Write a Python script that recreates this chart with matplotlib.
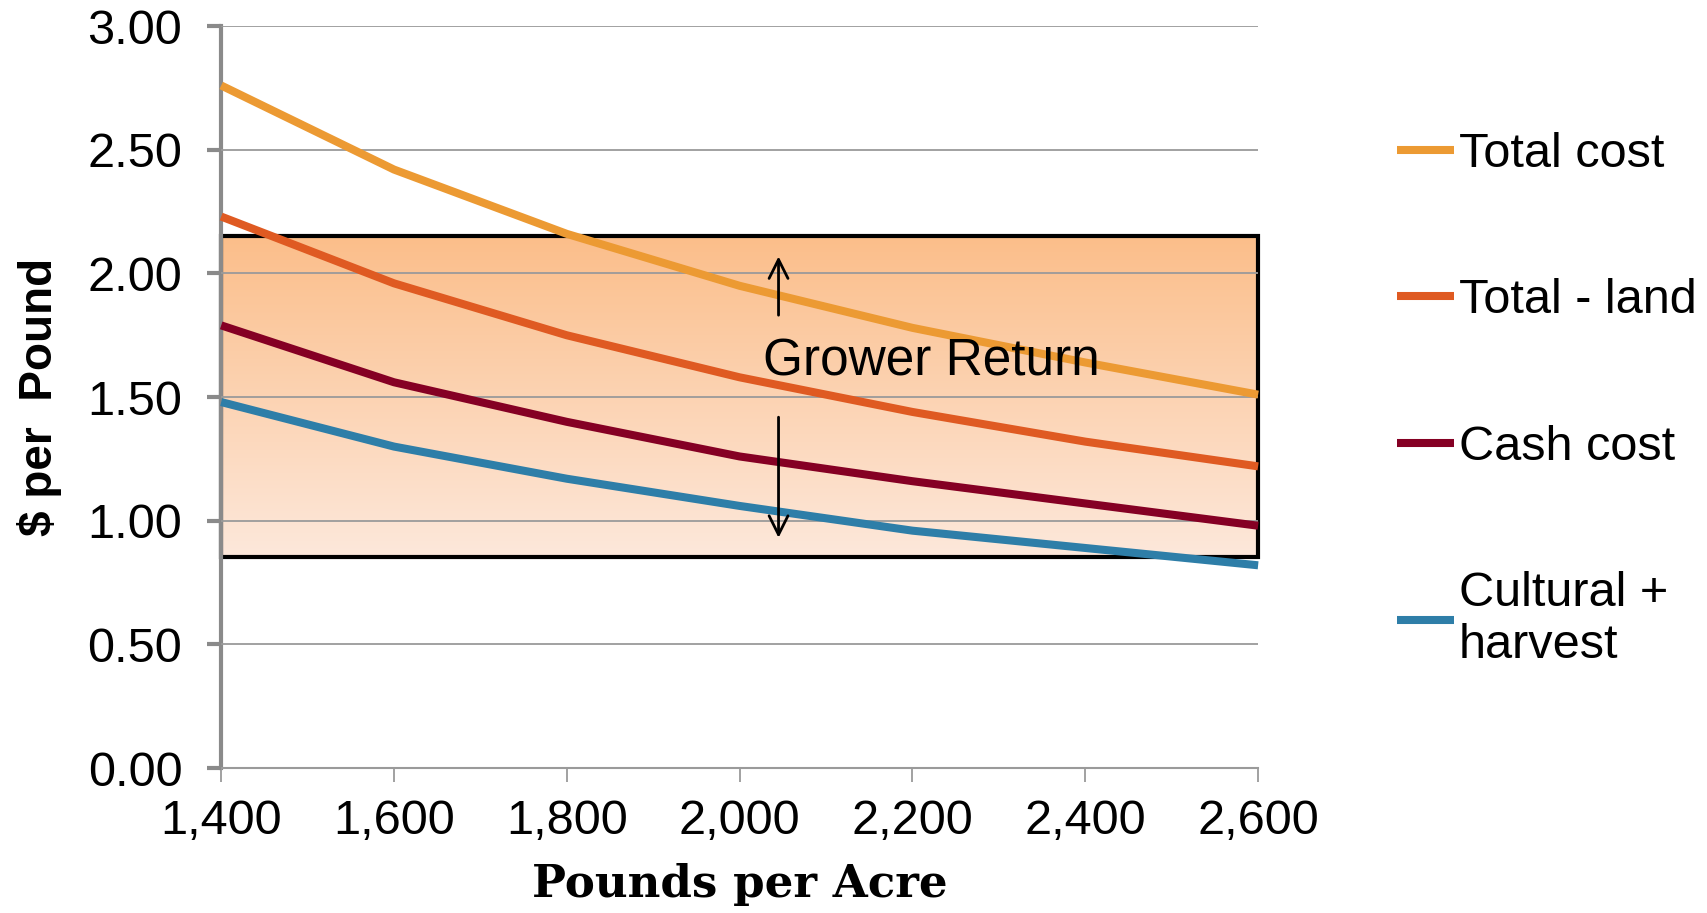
import numpy as np
import matplotlib
matplotlib.use('Agg')
import matplotlib.pyplot as plt
from matplotlib.patches import Rectangle

plt.rcParams['font.family'] = ['Liberation Sans', 'DejaVu Sans']

# pounds per acre
yields = [1400, 1600, 1800, 2000, 2200, 2400, 2600]

# $ per pound
total_cost = [2.76, 2.42, 2.16, 1.95, 1.78, 1.64, 1.51]
total_minus_land = [2.23, 1.96, 1.75, 1.58, 1.44, 1.32, 1.22]
cash_cost = [1.79, 1.56, 1.40, 1.26, 1.16, 1.07, 0.98]
cultural_harvest = [1.48, 1.30, 1.17, 1.06, 0.96, 0.89, 0.82]

series_labels = ['Total cost', 'Total - land', 'Cash cost', 'Cultural +\nharvest']
series_colors = ['#EC9A33', '#DF5A22', '#850024', '#2E7EA8']

# shaded "grower return" band
band_low = 0.855
band_high = 2.15
arrow_x = 2045
arrow_up = (1.82, 2.08)
arrow_down = (1.43, 0.92)
label_pos = (2222, 1.64)

fig = plt.figure(figsize=(17.08, 9.13), dpi=100)
ax = fig.add_axes([0.1295, 0.1587, 0.6071, 0.8127])

# gradient band
grad = np.linspace(0, 1, 256).reshape(-1, 1)
top = np.array([0xFB, 0xBE, 0x8A]) / 255
bot = np.array([0xFD, 0xE8, 0xDB]) / 255
img = top[None, None, :] * (1 - grad[:, :, None]) + bot[None, None, :] * grad[:, :, None]
ax.imshow(img, extent=[yields[0], yields[-1], band_low, band_high], aspect='auto',
          origin='upper', zorder=0.5)
ax.add_patch(Rectangle((yields[0], band_low), yields[-1] - yields[0], band_high - band_low,
                       fill=False, edgecolor='black', linewidth=3, zorder=2, clip_on=False))

for vals, lab, col in zip([total_cost, total_minus_land, cash_cost, cultural_harvest],
                          series_labels, series_colors):
    ax.plot(yields, vals, color=col, linewidth=5.8, label=lab, zorder=3,
            solid_capstyle='butt', clip_on=False)

ax.annotate('', xy=(arrow_x, arrow_up[1]), xytext=(arrow_x, arrow_up[0]),
            arrowprops=dict(arrowstyle='->', color='black', lw=2, mutation_scale=34), zorder=4)
ax.annotate('', xy=(arrow_x, arrow_down[1]), xytext=(arrow_x, arrow_down[0]),
            arrowprops=dict(arrowstyle='->', color='black', lw=2, mutation_scale=34), zorder=4)
ax.text(label_pos[0], label_pos[1], 'Grower Return', fontsize=37, ha='center', va='center', zorder=4)

ax.set_xlim(yields[0], yields[-1])
ax.set_ylim(0, 3.0)
ax.set_yticks(np.arange(0, 3.01, 0.5))
ax.set_yticklabels(['%.2f' % v for v in np.arange(0, 3.01, 0.5)])
ax.set_xticks(yields)
ax.set_xticklabels(['{:,}'.format(v) for v in yields])
ax.yaxis.grid(True, color='#9A9A9A', linewidth=1.3, zorder=1)
ax.set_axisbelow(False)
for gl in ax.get_ygridlines():
    gl.set_zorder(1)

for s in ['top', 'right']:
    ax.spines[s].set_visible(False)
ax.spines['left'].set_color('#8A8A8A')
ax.spines['left'].set_linewidth(3)
ax.spines['bottom'].set_color('#9A9A9A')
ax.spines['bottom'].set_linewidth(1.5)
ax.tick_params(axis='y', length=10, width=3, color='#8A8A8A', labelsize=35, pad=18)
ax.tick_params(axis='x', length=10, width=1.3, color='#9A9A9A', labelsize=35, pad=12)

ax.set_ylabel('$ per  Pound', fontsize=33, fontweight='bold', labelpad=18)
ax.set_xlabel('Pounds per Acre', fontsize=32.5, fontweight='bold',
              family=['DejaVu Serif'], labelpad=14)

ax.legend(loc='upper left', bbox_to_anchor=(1.115, 0.883), frameon=False, fontsize=35,
          handlelength=1.17, handletextpad=0.1, labelspacing=2.08, borderaxespad=0)

fig.savefig('out.png', dpi=100)
